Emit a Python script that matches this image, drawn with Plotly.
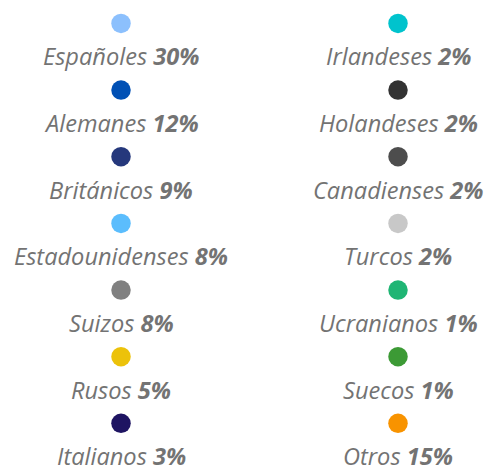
import plotly.graph_objects as go

names = ["Españoles", "Alemanes", "Británicos", "Estadounidenses", "Suizos", "Rusos", "Italianos",
         "Irlandeses", "Holandeses", "Canadienses", "Turcos", "Ucranianos", "Suecos", "Otros"]
values = [30, 12, 9, 8, 8, 5, 3, 2, 2, 2, 2, 1, 1, 15]
colors = ["#8cc0fd", "#0050b5", "#25387c", "#5bbdfd", "#808080", "#ecc20a", "#1e1462",
          "#00c3cd", "#333333", "#4d4d4d", "#c8c8c8", "#1fb574", "#3c9a35", "#f89300"]

rows_per_col = 7
W, H = 487, 467
col_x = [121, 398]
xs = [col_x[i // rows_per_col] for i in range(len(names))]
ys = [i % rows_per_col for i in range(len(names))]

fig = go.Figure()
fig.add_trace(go.Scatter(
    x=xs, y=ys, mode="markers",
    marker=dict(size=19.5, color=colors, line=dict(width=0)),
    hoverinfo="skip", showlegend=False,
))

for x, y, n, v in zip(xs, ys, names, values):
    fig.add_annotation(
        x=x, y=y, xref="x", yref="y",
        text=f"<i>{n} <b>{v}%</b></i>",
        showarrow=False, yshift=-33, yanchor="middle", xanchor="center",
        font=dict(family="Open Sans", size=23.6, color="#737373"),
    )

spacing = 66.66
top = 23.4
fig.update_layout(
    width=W, height=H,
    margin=dict(l=0, r=0, t=0, b=0),
    paper_bgcolor="white", plot_bgcolor="white",
    xaxis=dict(range=[0, W], visible=False, fixedrange=True),
    yaxis=dict(range=[(H - top) / spacing, -top / spacing], visible=False, fixedrange=True),
)

fig.write_html(
    "out.html",
    config={"displayModeBar": False, "staticPlot": True},
    post_script="document.body.style.margin='0';document.body.style.overflow='hidden';",
)
